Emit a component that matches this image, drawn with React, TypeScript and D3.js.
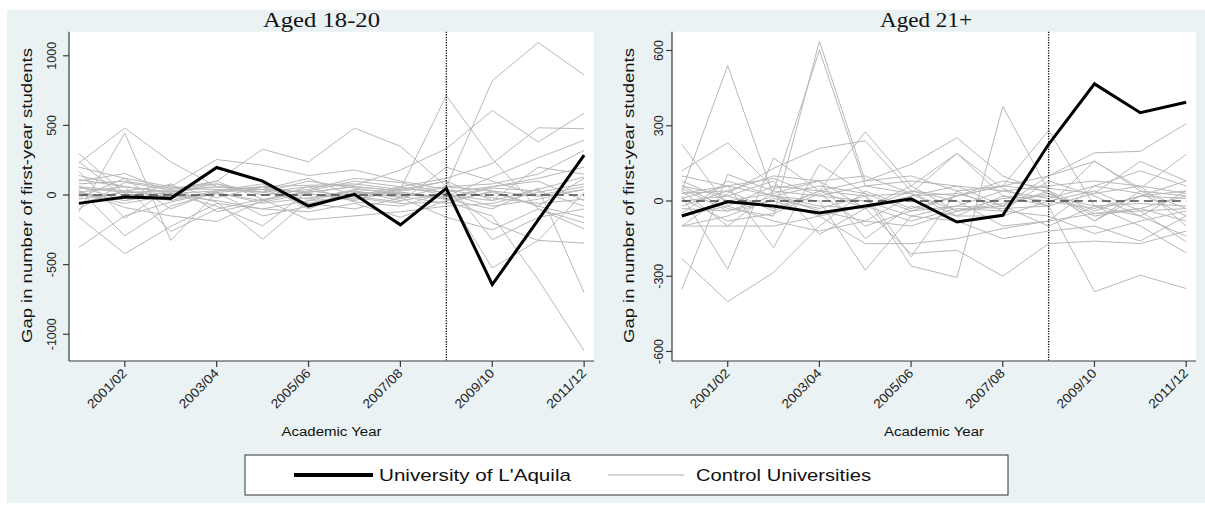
import React from "react";
import * as d3 from "d3";

const years = ["2000/01","2001/02","2002/03","2003/04","2004/05","2005/06","2006/07","2007/08","2008/09","2009/10","2010/11","2011/12"];
const tickYears = ["2001/02","2003/04","2005/06","2007/08","2009/10","2011/12"];
const eventYear = "2008/09";

const aquilaYoung = [-60, -15, -24, 198, 100, -79, 5, -214, 48, -643, -178, 286];
const controlsYoung = [
  [50, 20, 30, 60, 40, 20, 60, 30, 60, 821, 1095, 862],
  [20, -40, 10, 30, 60, 70, 80, 40, 714, 260, -100, -243],
  [80, 100, 50, 40, 20, 60, 70, 180, 333, 607, 381, 588],
  [-60, 30, -20, 10, -40, 30, -10, 60, 120, 226, 483, 476],
  [110, 60, 20, 80, 20, 100, 50, 0, -10, 130, 267, 393],
  [140, 60, 20, 100, 329, 238, 481, 350, 60, 30, -80, 120],
  [230, 481, 238, 60, 20, -30, 40, 20, -20, 60, 120, 200],
  [-120, 445, -326, 20, -60, -20, 30, -40, 10, -80, -30, 40],
  [-376, -150, -50, 20, 40, -60, 10, 20, -30, 50, 30, -80],
  [298, 10, -40, 30, 60, 10, -30, 50, 20, -200, -326, -345],
  [-160, -421, -226, -60, -100, -40, -20, -60, -50, -150, -607, -1119],
  [40, -293, -80, 20, -150, -80, 20, 10, -30, -100, 50, -702],
  [170, -167, 50, 80, 0, 40, 120, 90, 10, -524, -326, 20],
  [20, 60, -262, -100, -30, 20, 60, 30, 100, -321, -160, -100],
  [60, -40, 30, -50, -317, -40, 30, -20, 60, 80, 150, 321],
  [-30, 20, 10, -80, -221, 30, 100, 60, 0, -40, 40, 130],
  [200, 120, 60, 255, 214, 140, 180, 100, 40, -20, -60, -30],
  [100, 155, 20, 60, 40, 120, -10, -50, 200, 100, 0, 60],
  [-100, 90, 40, 100, -30, -178, -150, -120, -80, -60, 20, 80],
  [60, 30, 70, -20, 60, -60, -100, -20, -160, -250, -100, -200],
  [10, -60, 0, -40, -100, -120, -60, -160, -40, 20, -80, -160],
  [240, -20, 80, -120, -50, 10, -40, 40, 100, -40, 200, 150],
  [-20, 120, -100, 30, 80, -100, 20, -10, -60, 30, -10, 40],
  [30, -90, -150, -190, -40, 60, -50, -80, 20, 60, 100, -40],
];

const aquilaOld = [-60, -3, -20, -48, -20, 9, -84, -57, 226, 467, 352, 394];
const controlsOld = [
  [226, -20, 60, 40, 20, 30, -40, -10, 30, -50, -30, 20],
  [40, 540, 20, 60, 30, -40, -20, 40, 10, 60, 30, -60],
  [120, 232, 50, 80, -30, 20, 30, -20, 40, -80, 20, 80],
  [-352, 106, 40, 601, 60, 30, -60, 20, -20, 30, 60, -100],
  [60, -30, -60, 637, 80, 100, 40, -40, 80, 20, -60, 40],
  [-230, -401, -285, -100, 40, -30, 20, 60, 40, -80, 40, -30],
  [20, -272, 172, 40, 276, 60, 190, 20, 0, 40, -40, -163],
  [-100, 30, 130, 210, 240, 40, 20, 60, 281, -20, -100, -207],
  [10, 60, -186, 146, 30, -223, 40, 60, 100, 192, 198, 308],
  [-50, 80, 20, 0, -276, -60, -20, -30, -20, -362, -296, -349],
  [60, 20, 80, -133, -30, -210, -196, -300, -170, -160, -170, -120],
  [-100, -60, 10, -30, 20, -259, -305, 377, 40, -40, 20, 10],
  [30, 40, -40, 40, 80, 146, 252, 100, 30, -60, -30, -80],
  [80, 0, 30, 80, 100, 30, 190, 50, -20, 160, 40, 20],
  [50, -40, 20, -40, -80, 20, 60, -20, 100, 158, 50, 186],
  [10, -80, -50, 30, -100, -40, 20, 80, 50, 30, 158, 80],
  [-20, 40, 100, 80, -150, -20, -60, -60, 0, -30, 20, 40],
  [40, -100, 40, 20, 0, -60, -80, -150, -120, -100, -160, -60],
  [-60, -20, -80, -120, -80, -100, -40, -20, -100, -20, -60, -140],
  [100, 60, 20, -20, -30, 40, 0, -100, -80, 60, 120, 60],
  [-100, -100, -100, -60, -170, -170, -150, -110, -80, -50, -40, -30],
  [0, 20, -30, 40, -30, 60, -40, 10, 20, -20, -10, -20],
  [30, 60, 90, 20, 60, 80, 60, 40, 60, 80, 60, 30],
  [-30, -40, 0, -60, -20, -80, -30, -40, -60, -130, -80, -40],
];

const titles = ["Aged 18-20", "Aged 21+"];
const yTicksYoung = [-1000, -500, 0, 500, 1000];
const yTicksOld = [-600, -300, 0, 300, 600];
const yTitle = "Gap in number of first-year students";
const xTitle = "Academic Year";
const legendLabels = ["University of L'Aquila", "Control Universities"];

const SANS = "'Liberation Sans', Arial, sans-serif";
const SERIF = "'Liberation Serif', 'Times New Roman', serif";

type PanelProps = {
  title: string; titleX: number; titleLen: number;
  x0: number; x1: number; y0: number; y1: number;
  yDomain: [number, number]; yTicks: number[];
  aquila: number[]; controls: number[][];
  yTitleX: number; tickLabelX: number;
};

function Panel(p: PanelProps) {
  const idx = years.map((_, i) => i);
  const x = d3.scaleLinear().domain([-0.215, 11.215]).range([p.x0, p.x1]);
  const y = d3.scaleLinear().domain(p.yDomain).range([p.y1, p.y0]);
  const line = d3.line<number>().x((_, i) => x(i)).y((v) => y(v));
  const ev = years.indexOf(eventYear);
  return (
    <g>
      <rect x={p.x0} y={p.y0} width={p.x1 - p.x0} height={p.y1 - p.y0} fill="#ffffff" />
      {p.controls.map((s, k) => (
        <path key={k} d={line(s) || ""} fill="none" stroke="#b8b8b8" strokeWidth={1} />
      ))}
      <line x1={x(0)} x2={x(11)} y1={y(0)} y2={y(0)} stroke="#4a4a4a" strokeWidth={1.6} strokeDasharray="9,5" />
      <line x1={x(ev)} x2={x(ev)} y1={p.y0} y2={p.y1} stroke="#111" strokeWidth={1.3} strokeDasharray="1.3,1.3" />
      <path d={line(p.aquila) || ""} fill="none" stroke="#000" strokeWidth={3} strokeLinejoin="miter" />
      {/* axes */}
      <line x1={p.x0} x2={p.x0} y1={p.y0} y2={p.y1} stroke="#3a3a3a" strokeWidth={1.2} />
      <line x1={p.x0} x2={p.x1} y1={p.y1} y2={p.y1} stroke="#3a3a3a" strokeWidth={1.2} />
      {p.yTicks.map((t) => (
        <g key={t}>
          <line x1={p.x0 - 6} x2={p.x0} y1={y(t)} y2={y(t)} stroke="#3a3a3a" strokeWidth={1.2} />
          <text transform={`translate(${p.tickLabelX},${y(t)}) rotate(-90)`} textAnchor="middle"
            fontFamily={SANS} fontSize={12.5} fill="#222">{t}</text>
        </g>
      ))}
      {tickYears.map((ty) => {
        const i = years.indexOf(ty);
        return (
          <g key={ty}>
            <line x1={x(i)} x2={x(i)} y1={p.y1} y2={p.y1 + 6} stroke="#3a3a3a" strokeWidth={1.2} />
            <text transform={`translate(${x(i) + 3},${p.y1 + 13}) rotate(-45)`} textAnchor="end"
              fontFamily={SANS} fontSize={13} textLength={50} lengthAdjust="spacingAndGlyphs" fill="#222">{ty}</text>
          </g>
        );
      })}
      <text x={p.titleX} y={27} textAnchor="middle" fontFamily={SERIF} fontSize={20}
        textLength={p.titleLen} lengthAdjust="spacingAndGlyphs" fill="#111">{p.title}</text>
      <text transform={`translate(${p.yTitleX},195.5) rotate(-90)`} textAnchor="middle" fontFamily={SANS}
        fontSize={15.5} textLength={295} lengthAdjust="spacingAndGlyphs" fill="#111">{yTitle}</text>
      <text x={(p.x0 + p.x1) / 2} y={436} textAnchor="middle" fontFamily={SANS} fontSize={12.5}
        textLength={100} lengthAdjust="spacingAndGlyphs" fill="#111">{xTitle}</text>
    </g>
  );
}

export default function App() {
  return (
    <svg width={1205} height={508} style={{ position: "absolute", left: 0, top: 0, display: "block" }}>
      <rect x={0} y={0} width={1205} height={508} fill="#ffffff" />
      <rect x={7} y={10} width={1198} height={493} fill="#eaf2f3" />
      <Panel title={titles[0]} titleX={321.5} titleLen={117} x0={69} x1={594} y0={31.7} y1={361}
        yDomain={[-1192, 1173]} yTicks={yTicksYoung} aquila={aquilaYoung} controls={controlsYoung}
        yTitleX={32} tickLabelX={56} />
      <Panel title={titles[1]} titleX={926} titleLen={92} x0={672} x1={1196} y0={31.7} y1={361}
        yDomain={[-638, 675]} yTicks={yTicksOld} aquila={aquilaOld} controls={controlsOld}
        yTitleX={634} tickLabelX={663} />
      <g>
        <rect x={245} y={455} width={763} height={40} fill="#ffffff" stroke="#333" strokeWidth={1} />
        <line x1={294} x2={373} y1={475} y2={475} stroke="#000" strokeWidth={4} />
        <text x={379} y={481} fontFamily={SANS} fontSize={17} textLength={192} lengthAdjust="spacingAndGlyphs" fill="#111">{legendLabels[0]}</text>
        <line x1={608} x2={684} y1={475} y2={475} stroke="#c4c4c4" strokeWidth={1.5} />
        <text x={696} y={481} fontFamily={SANS} fontSize={17} textLength={175} lengthAdjust="spacingAndGlyphs" fill="#111">{legendLabels[1]}</text>
      </g>
    </svg>
  );
}
